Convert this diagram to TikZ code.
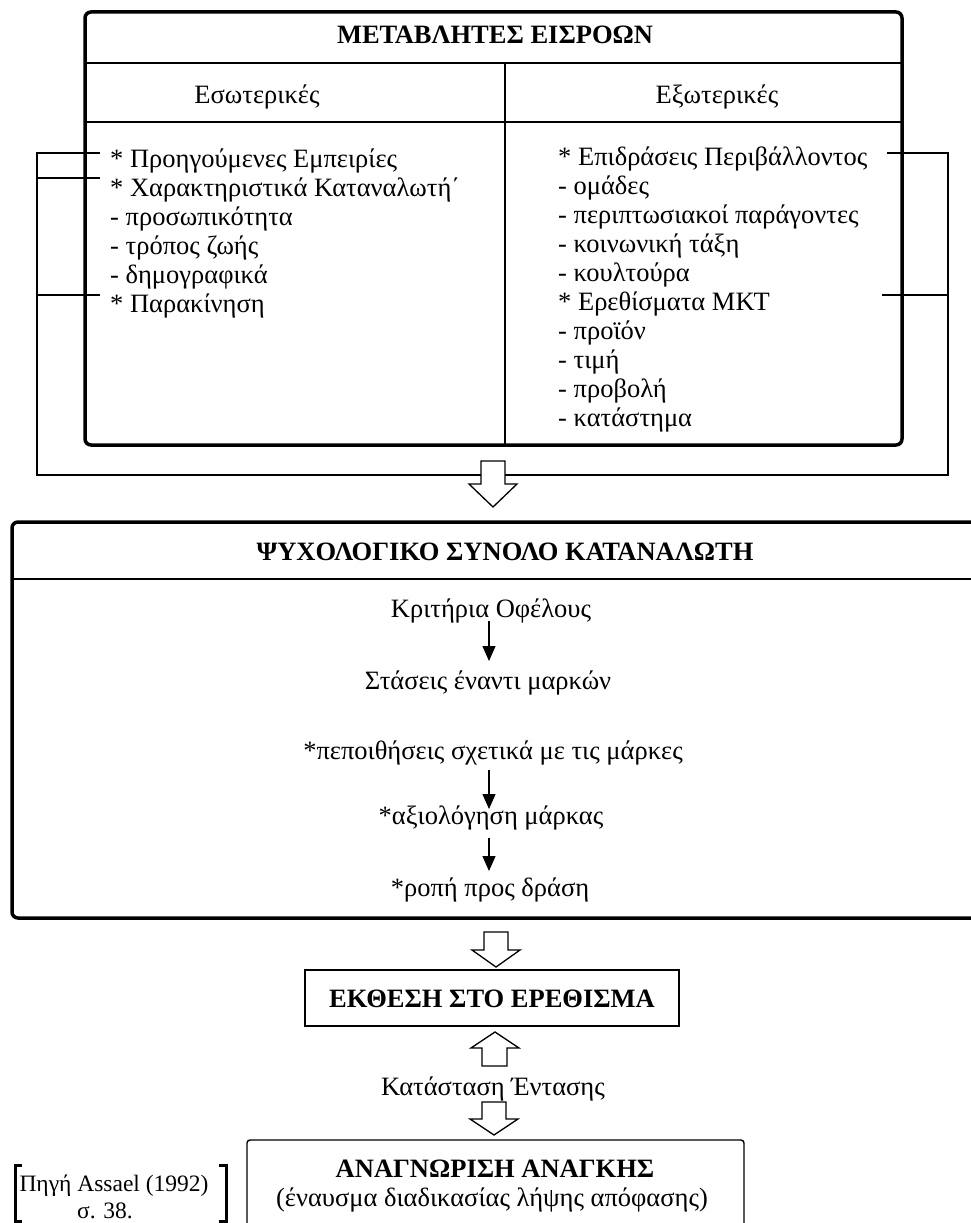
\documentclass[tikz,border=0pt]{standalone}
\usepackage{fontspec}
\setmainfont{Liberation Serif}
\usetikzlibrary{arrows.meta}
\newcommand\hollowdn[4]{% cx, top, headbase, tip
  \draw[hollow] ({#1-12},#2) -- ({#1+12},#2) -- ({#1+12},#3) -- ({#1+24},#3) -- (#1,#4) -- ({#1-24},#3) -- ({#1-12},#3) -- cycle;}
\begin{document}
\begin{tikzpicture}[x=1pt,y=-1pt,
  body/.style={font=\fontsize{26.5}{30}\selectfont, inner sep=0pt},
  lft/.style={body, anchor=base west},
  ctr/.style={body, anchor=base},
  hdr/.style={font=\fontsize{26.5}{30}\selectfont\bfseries, inner sep=0pt, anchor=base},
  srcfont/.style={font=\fontsize{23.5}{26}\selectfont, inner sep=0pt, anchor=base},
  thinline/.style={line width=1.3pt},
  heavybox/.style={line width=3.5pt, rounded corners=6pt},
  plainbox/.style={line width=1.4pt},
  arr/.style={line width=1.3pt, -{Triangle[length=15pt,width=13pt]}},
  hollow/.style={line width=1.3pt, fill=white, line join=miter}]
\useasboundingbox (0,0) rectangle (970,1223);
\fill[white] (0,0) rectangle (970,1223);

% ---------- top box ----------
\draw[heavybox] (85,12) rectangle (902,445);
\draw[thinline] (85,63) -- (902,63);
\draw[thinline] (85,122) -- (902,122);
\draw[thinline] (505,63) -- (505,445);
\node[hdr] (t1) at (495,44) {ΜΕΤΑΒΛΗΤΕΣ ΕΙΣΡΟΩΝ};
\node[ctr] (int) at (257,103) {Εσωτερικές};
\node[ctr] (ext) at (717,103) {Εξωτερικές};

\node[lft] (l1) at (110,167) {* Προηγούμενες Εμπειρίες};
\node[lft] (l2) at (110,196) {* Χαρακτηριστικά Καταναλωτή΄};
\node[lft] (l3) at (110,225) {- προσωπικότητα};
\node[lft] (l4) at (110,254) {- τρόπος ζωής};
\node[lft] (l5) at (110,283) {- δημογραφικά};
\node[lft] (l6) at (110,312) {* Παρακίνηση};

\node[lft] (r1) at (558,165) {* Επιδράσεις Περιβάλλοντος};
\node[lft] (r2) at (558,194) {- ομάδες};
\node[lft] (r3) at (558,223) {- περιπτωσιακοί παράγοντες};
\node[lft] (r4) at (558,252) {- κοινωνική τάξη};
\node[lft] (r5) at (558,281) {- κουλτούρα};
\node[lft] (r6) at (558,310) {* Ερεθίσματα ΜΚΤ};
\node[lft] (r7) at (558,339) {- προϊόν};
\node[lft] (r8) at (558,368) {- τιμή};
\node[lft] (r9) at (558,397) {- προβολή};
\node[lft] (r10) at (558,426) {- κατάστημα};

% bracket connectors
\coordinate (bl1) at (100,153);
\coordinate (bl2) at (100,178);
\coordinate (bl3) at (100,295);
\coordinate (br1) at (887,153);
\coordinate (br2) at (882,295);
\draw[thinline] (bl1) -- (37,153) -- (37,475) -- (948,475) -- (948,153) -- (br1);
\draw[thinline] (bl2) -- (37,178);
\draw[thinline] (bl3) -- (37,295);
\draw[thinline] (br2) -- (948,295);

\hollowdn{493}{461}{484}{507}

% ---------- second box ----------
\draw[heavybox] (12,522) rectangle (990,918);
\draw[thinline] (12,579) -- (990,579);
\node[hdr] (t2) at (505,560) {ΨΥΧΟΛΟΓΙΚΟ ΣΥΝΟΛΟ ΚΑΤΑΝΑΛΩΤΗ};
\node[ctr] (k1) at (491,617) {Κριτήρια Οφέλους};
\node[ctr] (k2) at (488,689) {Στάσεις έναντι μαρκών};
\node[ctr] (k3) at (493,759) {*πεποιθήσεις σχετικά με τις μάρκες};
\node[ctr] (k4) at (491,824) {*αξιολόγηση μάρκας};
\node[ctr] (k5) at (490,896) {*ροπή προς δράση};
\coordinate (a1s) at (489,621); \coordinate (a1e) at (489,661);
\coordinate (a2s) at (489,770); \coordinate (a2e) at (489,809);
\coordinate (a3s) at (489,838); \coordinate (a3e) at (489,871);
\draw[arr] (a1s) -- (a1e);
\draw[arr] (a2s) -- (a2e);
\draw[arr] (a3s) -- (a3e);

\hollowdn{496}{932}{950}{967}

% ---------- exposure box ----------
\draw[plainbox] (305,970) rectangle (679,1026);
\node[hdr] (t3) at (492,1007) {ΕΚΘΕΣΗ ΣΤΟ ΕΡΕΘΙΣΜΑ};

% up arrow
\draw[hollow] (482,1066) -- (507,1066) -- (507,1048) -- (519,1048) -- (495,1032) -- (471,1048) -- (482,1048) -- cycle;
\node[ctr] (ks) at (493,1095) {Κατάσταση Έντασης};

\hollowdn{494}{1102}{1119}{1135}

% ---------- need recognition box ----------
\draw[plainbox, rounded corners=3pt] (247,1260) -- (247,1140) -- (744,1140) -- (744,1260);
\node[hdr] (t4) at (495,1177) {ΑΝΑΓΝΩΡΙΣΗ ΑΝΑΓΚΗΣ};
\node[ctr] (t5) at (492,1206) {(έναυσμα διαδικασίας λήψης απόφασης)};

% source bracket
\draw[line width=3pt] (22,1165) -- (15.5,1165) -- (15.5,1221) -- (22,1221);
\draw[line width=3pt] (219,1165) -- (226.5,1165) -- (226.5,1221) -- (219,1221);
\node[srcfont] (src1) at (114,1191) {Πηγή Assael (1992)};
\node[srcfont] (src2) at (105,1218) {σ. 38.};
\end{tikzpicture}
\end{document}
